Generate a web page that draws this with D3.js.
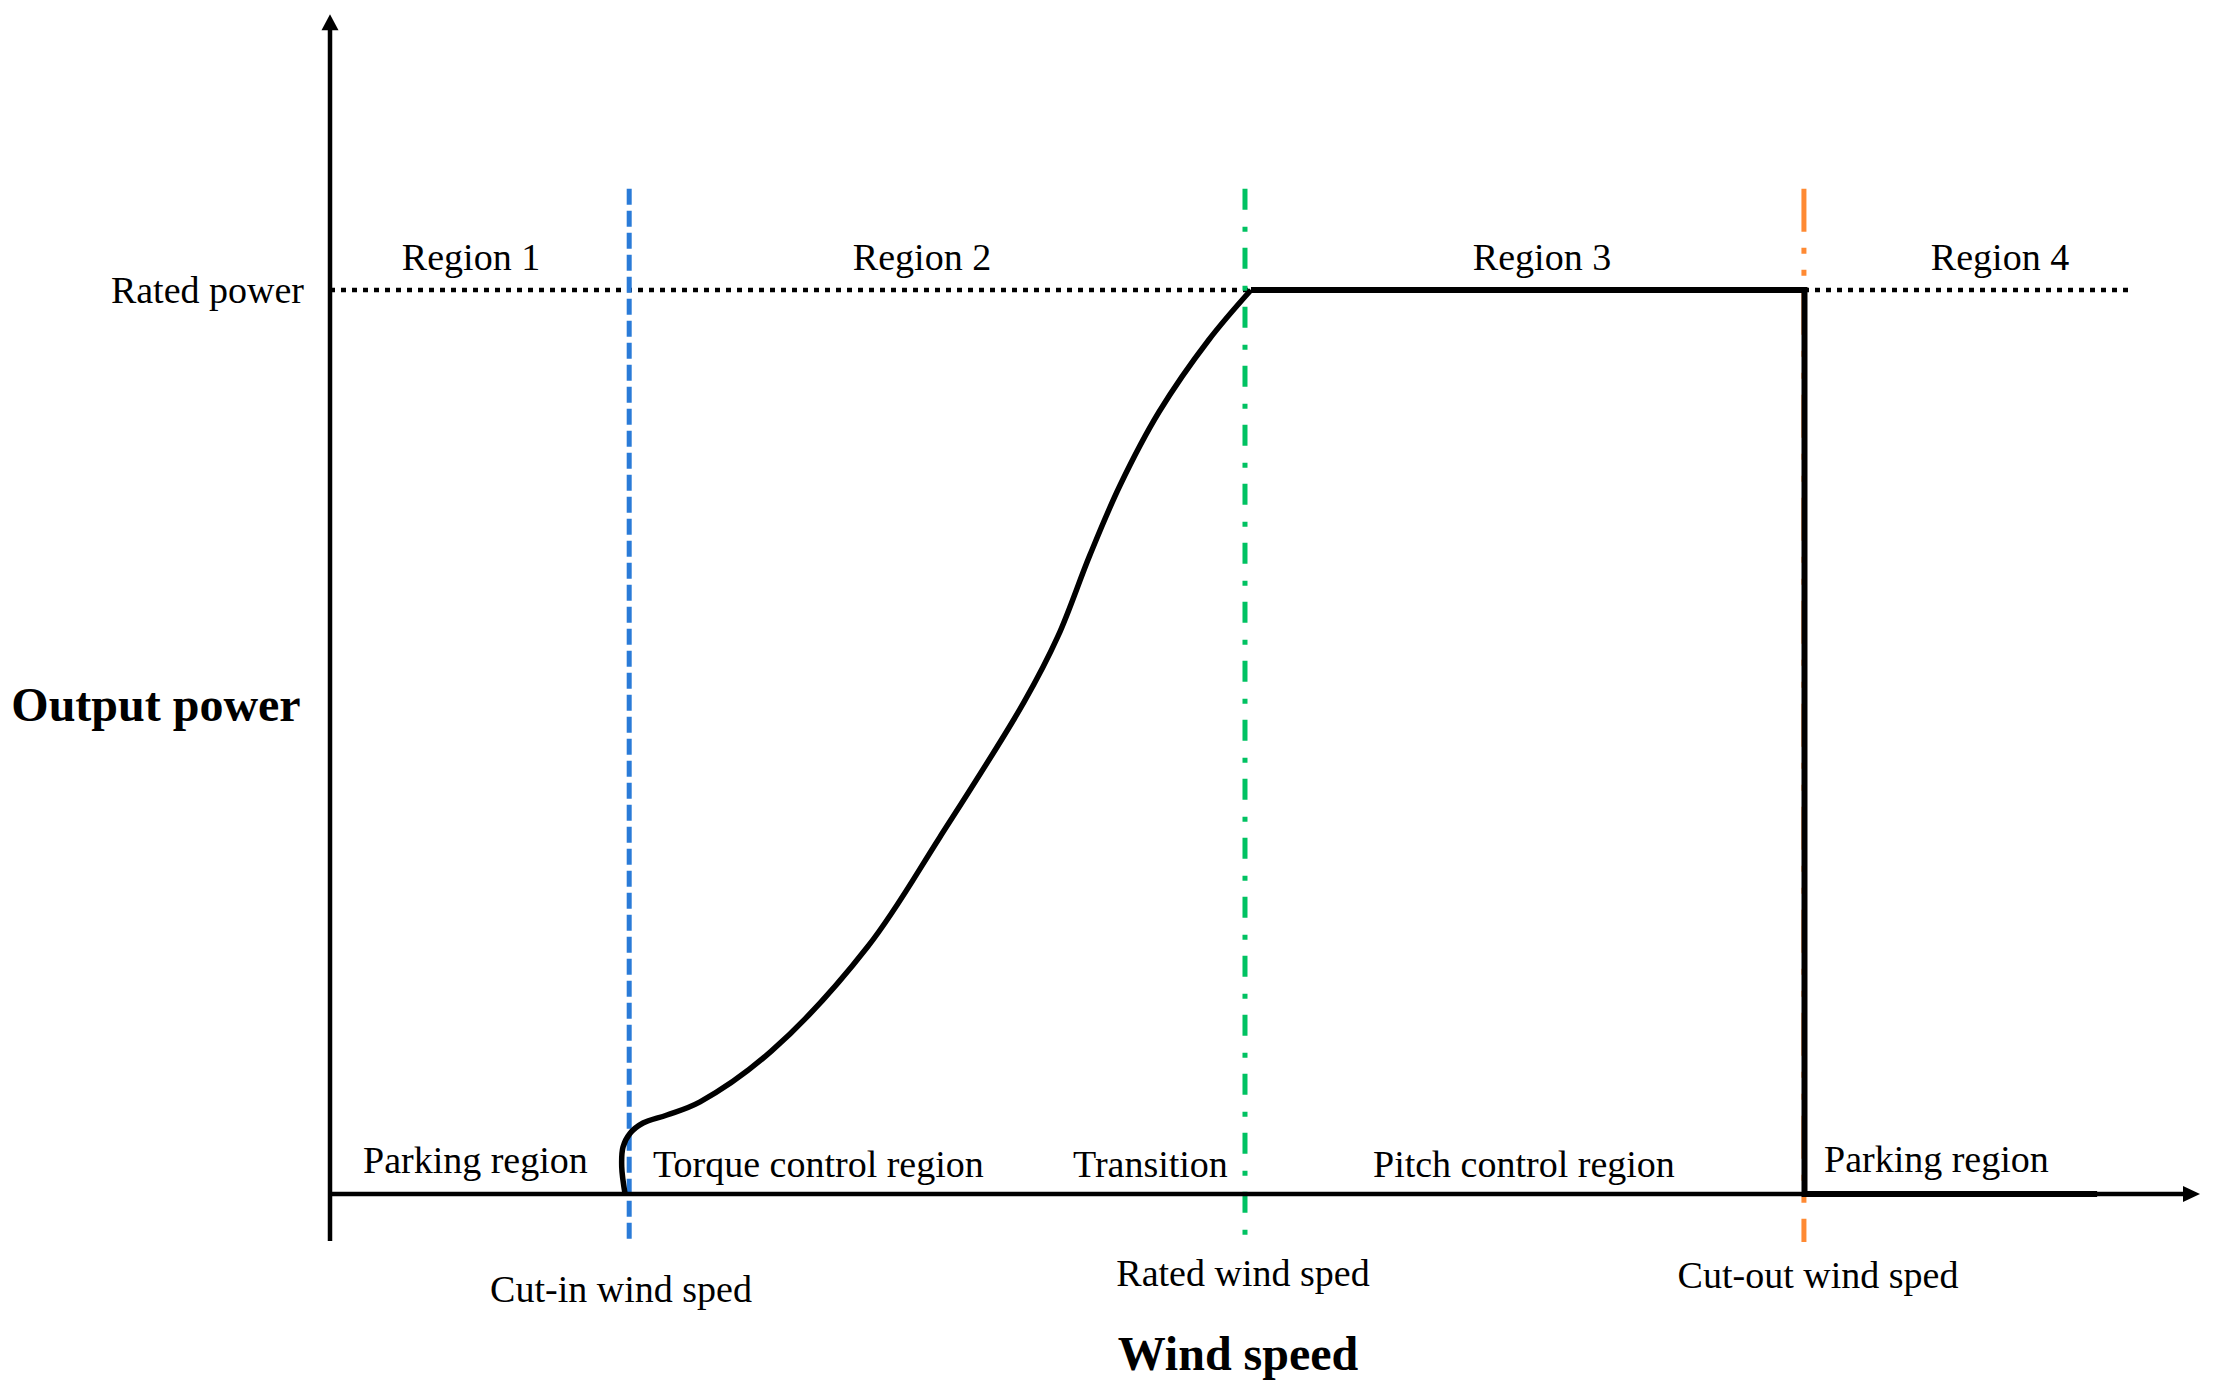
<!DOCTYPE html>
<html>
<head>
<meta charset="utf-8">
<script src="https://cdn.jsdelivr.net/npm/d3@7"></script>
<style>
  body { margin: 0; background: #fff; }
  text { font-family: "Liberation Serif", "Times New Roman", serif; fill: #000; }
</style>
</head>
<body>
<svg id="chart"></svg>
<script>
const W = 2219, H = 1393;

// wind speed in arbitrary units (0-100), power in % of rated power
const curveSpeed = [15.78, 15.6, 15.67, 16.04, 16.74, 18.02, 19.79, 23.6, 28.77, 32.62, 37.11, 38.93, 40.64, 42.25, 44.33, 47.0, 49.25];
const curvePower = [0, 3.0, 5.2, 6.7, 7.85, 8.74, 10.2, 15.8, 27.4, 39.5, 54.4, 61.7, 70.7, 78.4, 86.5, 94.5, 100];

// rated -> cut-out -> parking
const flatSpeed = [49.25, 78.85, 78.85, 94.5];
const flatPower = [100, 100, 0, 0];

const ratedPower = 100;
const limitNames = ['Cut-in wind sped', 'Rated wind sped', 'Cut-out wind sped'];
const limitSpeeds = [16.0, 48.93, 78.82];

const regionNames = ['Region 1', 'Region 2', 'Region 3', 'Region 4'];
const zoneNames = ['Parking region', 'Torque control region', 'Transition', 'Pitch control region', 'Parking region'];

const svg = d3.select('#chart').attr('width', W).attr('height', H);
svg.append('rect').attr('width', W).attr('height', H).attr('fill', '#fff');

const x = d3.scaleLinear().domain([0, 100]).range([330, 2200]);
const y = d3.scaleLinear().domain([0, 100]).range([1194, 290]);

const line = d3.line().x(d => x(d[0])).y(d => y(d[1]));

// rated power dotted line
svg.append('path')
  .attr('d', line([[0, ratedPower], [96.26, ratedPower]]))
  .attr('stroke', '#000')
  .attr('stroke-width', 4.5)
  .attr('stroke-dasharray', '5 6')
  .attr('fill', 'none');

// limit lines (cut-in, rated, cut-out)
const limitStyle = [
  { color: '#2A7BD8', dash: '16 6', bottom: -5.3 },
  { color: '#00C262', dash: '21 17 5 16', bottom: -4.5 },
  { color: '#FF8A33', dash: '43 16 6 16 6 16', bottom: -5.3 }
];
limitSpeeds.forEach((s, i) => {
  svg.append('path')
    .attr('d', line([[s, 111.2], [s, limitStyle[i].bottom]]))
    .attr('stroke', limitStyle[i].color)
    .attr('stroke-width', 5)
    .attr('stroke-dasharray', limitStyle[i].dash)
    .attr('fill', 'none');
});

// axes
const axisG = svg.append('g');
axisG.append('path')
  .attr('d', line([[0, -5.2], [0, 128.8]]))
  .attr('stroke', '#000').attr('stroke-width', 4.5).attr('fill', 'none');
axisG.append('path')
  .attr('d', line([[0, 0], [99.3, 0]]))
  .attr('stroke', '#000').attr('stroke-width', 4.5).attr('fill', 'none');

// arrow heads
const yTip = y(130.5), xTip = x(100);
axisG.append('path')
  .attr('d', `M${x(0)},${yTip}L${x(0) - 8.5},${yTip + 16}L${x(0) + 8.5},${yTip + 16}Z`)
  .attr('fill', '#000');
axisG.append('path')
  .attr('d', `M${xTip},${y(0)}L${xTip - 17},${y(0) - 8}L${xTip - 17},${y(0) + 8}Z`)
  .attr('fill', '#000');

// power curve
svg.append('path')
  .attr('d', d3.line().curve(d3.curveCatmullRom.alpha(0.5))
    .x(d => x(d[0])).y(d => y(d[1]))(d3.zip(curveSpeed, curvePower)))
  .attr('stroke', '#000')
  .attr('stroke-width', 5.5)
  .attr('fill', 'none');

svg.append('path')
  .attr('d', line(d3.zip(flatSpeed, flatPower)))
  .attr('stroke', '#000')
  .attr('stroke-width', 6)
  .attr('stroke-linejoin', 'miter')
  .attr('fill', 'none');

// labels
const fs = 38;
svg.append('text').attr('x', 304).attr('y', 303).attr('text-anchor', 'end')
  .attr('font-size', fs).text('Rated power');

const regionX = [471, 922, 1542, 2000];
regionNames.forEach((t, i) => {
  svg.append('text').attr('x', regionX[i]).attr('y', 270)
    .attr('text-anchor', 'middle').attr('font-size', fs).text(t);
});

const zoneX = [363, 653, 1073, 1373, 1824];
const zoneY = [1173, 1177, 1177, 1177, 1172];
zoneNames.forEach((t, i) => {
  svg.append('text').attr('x', zoneX[i]).attr('y', zoneY[i])
    .attr('font-size', fs).text(t);
});

const limitLabelX = [621, 1243, 1818];
const limitLabelY = [1302, 1286, 1288];
limitNames.forEach((t, i) => {
  svg.append('text').attr('x', limitLabelX[i]).attr('y', limitLabelY[i])
    .attr('text-anchor', 'middle').attr('font-size', fs).text(t);
});

svg.append('text').attr('x', 156).attr('y', 721).attr('text-anchor', 'middle')
  .attr('font-size', 48).attr('font-weight', 'bold').text('Output power');
svg.append('text').attr('x', 1238).attr('y', 1370).attr('text-anchor', 'middle')
  .attr('font-size', 48).attr('font-weight', 'bold').text('Wind speed');
</script>
</body>
</html>
